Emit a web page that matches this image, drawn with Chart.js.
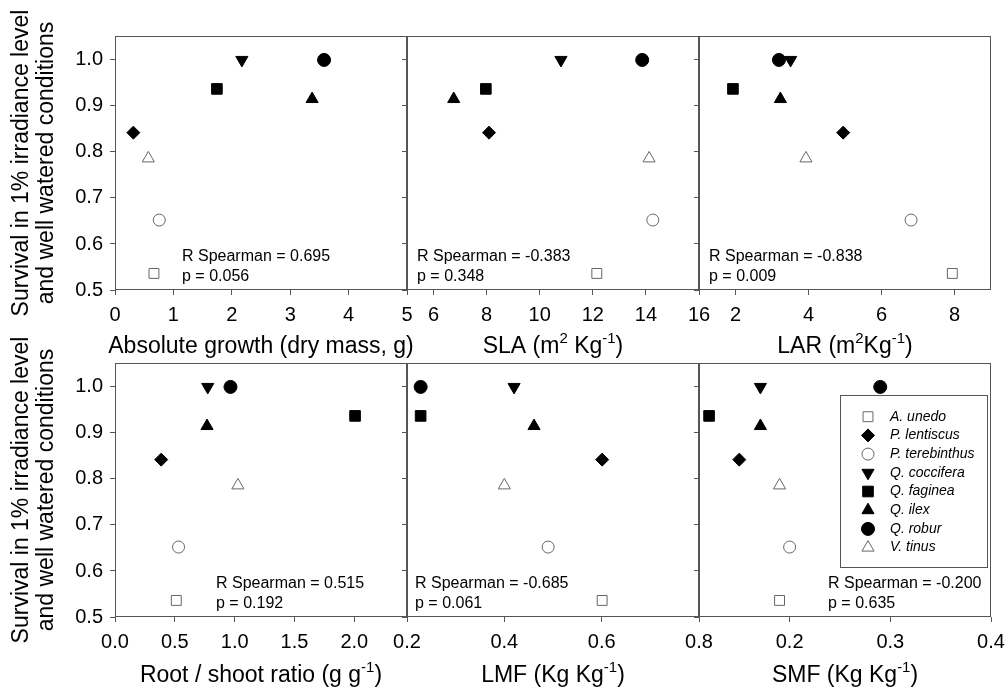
<!DOCTYPE html>
<html>
<head>
<meta charset="utf-8">
<script src="https://cdn.jsdelivr.net/npm/chart.js@4.4.0/dist/chart.umd.min.js"></script>
<style>
    html, body { margin: 0; padding: 0; background: #fff; overflow: hidden; }
    body { width: 1006px; height: 692px; position: relative; }
    canvas { position: absolute; }
</style>
</head>
<body>
<canvas id="pGrowth"></canvas>
<canvas id="pSla"></canvas>
<canvas id="pLar"></canvas>
<canvas id="pRootShoot"></canvas>
<canvas id="pLmf"></canvas>
<canvas id="pSmf"></canvas>
<script>
const FONT = '"Liberation Sans", Arial, sans-serif';

// Especies y supervivencia (eje Y comun a los 6 paneles)
const species = ['A. unedo', 'P. lentiscus', 'P. terebinthus', 'Q. coccifera', 'Q. faginea', 'Q. ilex', 'Q. robur', 'V. tinus'];
const survival = [0.536, 0.842, 0.652, 1.0, 0.937, 0.915, 1.0, 0.786];

// Variables del eje X, mismo orden que species
const absGrowth = [0.667, 0.314, 0.758, 2.172, 1.745, 3.375, 3.58, 0.570];
const sla = [12.15, 8.09, 14.26, 10.80, 7.97, 6.76, 13.86, 14.12];
const lar = [7.94, 4.95, 6.81, 3.51, 1.93, 3.23, 3.19, 3.93];
const rootShoot = [0.512, 0.386, 0.531, 0.775, 2.006, 0.769, 0.965, 1.027];
const lmf = [0.601, 0.601, 0.490, 0.420, 0.228, 0.461, 0.228, 0.400];
const smf = [0.190, 0.150, 0.200, 0.171, 0.120, 0.171, 0.290, 0.190];

// Marcas de los ejes
const yTicks = [0.5, 0.6, 0.7, 0.8, 0.9, 1.0];
const growthTicks = [0, 1, 2, 3, 4, 5];
const slaTicks = [6, 8, 10, 12, 14, 16];
const larTicks = [2, 4, 6, 8];
const rootShootTicks = [0, 0.5, 1.0, 1.5, 2.0];
const lmfTicks = [0.2, 0.4, 0.6, 0.8];
const smfTicks = [0.2, 0.3, 0.4];

// Estadisticos de cada panel
const spearmanR = ['0.695', '-0.383', '-0.838', '0.515', '-0.685', '-0.200'];
const spearmanP = ['0.056', '0.348', '0.009', '0.192', '0.061', '0.635'];

// Simbolo de cada especie
const markers = [
    { style: 'rect', radius: 7, open: true },
    { style: 'rectRot', radius: 6.5, open: false },
    { style: 'circle', radius: 6, open: true },
    { style: 'triangle', radius: 7, rotation: 180, open: false },
    { style: 'rect', radius: 7.5, open: false },
    { style: 'triangle', radius: 7, open: false },
    { style: 'circle', radius: 6.5, open: false },
    { style: 'triangle', radius: 7, open: true },
];

// Geometria de la rejilla de paneles
const COL_LEFT = [115, 407, 699];
const ROW_TOP = [36, 363];
const PLOT_W = 292;
const PLOT_H = 254;

// Titulos del eje X: [texto, superindice]
const panels = [
    { id: 'pGrowth', col: 0, row: 0, x: absGrowth, ticks: growthTicks, min: 0, max: 5, dec: 0,
      title: [['Absolute growth (dry mass, g)', false]], textDx: 67 },
    { id: 'pSla', col: 1, row: 0, x: sla, ticks: slaTicks, min: 5, max: 16, dec: 0,
      title: [['SLA (m', false], ['2', true], [' Kg', false], ['-1', true], [')', false]], textDx: 10 },
    { id: 'pLar', col: 2, row: 0, x: lar, ticks: larTicks, min: 1, max: 9, dec: 0,
      title: [['LAR (m', false], ['2', true], ['Kg', false], ['-1', true], [')', false]], textDx: 10 },
    { id: 'pRootShoot', col: 0, row: 1, x: rootShoot, ticks: rootShootTicks, min: 0, max: 2.44, dec: 1,
      title: [['Root / shoot ratio (g g', false], ['-1', true], [')', false]], textDx: 101 },
    { id: 'pLmf', col: 1, row: 1, x: lmf, ticks: lmfTicks, min: 0.2, max: 0.8, dec: 1,
      title: [['LMF (Kg Kg', false], ['-1', true], [')', false]], textDx: 8 },
    { id: 'pSmf', col: 2, row: 1, x: smf, ticks: smfTicks, min: 0.11, max: 0.4, dec: 1,
      title: [['SMF (Kg Kg', false], ['-1', true], [')', false]], textDx: 129, legend: true },
];

// Caja del panel, titulo X con superindices, texto de Spearman y leyenda
const panelDecor = {
    id: 'panelDecor',
    beforeDatasetsDraw(chart) {
        const { ctx, chartArea: a } = chart;
        ctx.save();
        ctx.strokeStyle = '#555';
        ctx.lineWidth = 1;
        ctx.strokeRect(Math.round(a.left) + 0.5, Math.round(a.top) + 0.5,
            Math.round(a.right - a.left) - 1, Math.round(a.bottom - a.top) - 1);
        ctx.restore();
    },
    afterDraw(chart, args, opts) {
        const { ctx, chartArea: a } = chart;
        ctx.save();
        ctx.fillStyle = '#000';

        // titulo del eje X
        const mainFont = '23px ' + FONT, supFont = '15px ' + FONT;
        let total = 0;
        opts.title.forEach(([t, sup]) => { ctx.font = sup ? supFont : mainFont; total += ctx.measureText(t).width; });
        let tx = (a.left + a.right) / 2 - total / 2;
        const base = a.bottom + opts.titleBase;
        ctx.textAlign = 'left';
        ctx.textBaseline = 'alphabetic';
        opts.title.forEach(([t, sup]) => {
            ctx.font = sup ? supFont : mainFont;
            ctx.fillText(t, tx, sup ? base - 10 : base);
            tx += ctx.measureText(t).width;
        });

        // estadisticos
        ctx.font = '16px ' + FONT;
        ctx.textBaseline = 'middle';
        ctx.fillText('R Spearman = ' + opts.r, a.left + opts.dx, a.bottom - 33);
        ctx.fillText('p = ' + opts.p, a.left + opts.dx, a.bottom - 13.5);

        if (opts.legend) {
            const bx = a.right - 151, by = a.top + 32;
            ctx.strokeStyle = '#555';
            ctx.lineWidth = 1;
            ctx.strokeRect(Math.round(bx) + 0.5, Math.round(by) + 0.5, 147, 172);
            ctx.font = 'italic 14px ' + FONT;
            chart.data.datasets.forEach((d, k) => {
                const y = by + 21.7 + k * 18.7;
                ctx.fillStyle = d.pointBackgroundColor;
                ctx.strokeStyle = d.pointBorderColor;
                ctx.lineWidth = d.pointBorderWidth;
                if (Chart.helpers && Chart.helpers.drawPoint) {
                    Chart.helpers.drawPoint(ctx, {
                        pointStyle: d.pointStyle,
                        rotation: d.pointRotation,
                        radius: d.pointRadius,
                        borderWidth: d.pointBorderWidth
                    }, bx + 28, y);
                }
                ctx.fillStyle = '#000';
                ctx.fillText(d.label, bx + 50, y);
            });
        }
        ctx.restore();
    }
};

function renderPanel(p, i) {
    const first = p.col === 0;
    const yw = first ? 115 : 30;
    const pt = 40, pr = 26;
    const xh = p.row === 0 ? 69 : 71;

    const cv = document.getElementById(p.id);
    cv.width = yw + PLOT_W + pr;
    cv.height = pt + PLOT_H + xh;
    cv.style.left = (COL_LEFT[p.col] - yw) + 'px';
    cv.style.top = (ROW_TOP[p.row] - pt) + 'px';

    const datasets = species.map((name, k) => ({
        label: name,
        data: [{ x: p.x[k], y: survival[k] }],
        pointStyle: markers[k].style,
        pointRotation: markers[k].rotation || 0,
        pointRadius: markers[k].radius,
        pointBackgroundColor: markers[k].open ? '#fff' : '#000',
        pointBorderColor: markers[k].open ? '#666' : '#000',
        pointBorderWidth: 1,
    }));

    new Chart(cv, {
        type: 'scatter',
        data: { datasets },
        options: {
            responsive: false,
            animation: false,
            events: [],
            layout: { padding: { left: 0, top: pt, right: pr, bottom: 0 } },
            plugins: {
                legend: { display: false },
                tooltip: { enabled: false },
                panelDecor: {
                    r: spearmanR[i], p: spearmanP[i], dx: p.textDx, legend: !!p.legend,
                    title: p.title, titleBase: p.row === 0 ? 63 : 65
                }
            },
            scales: {
                x: {
                    type: 'linear',
                    min: p.min,
                    max: p.max,
                    afterBuildTicks: s => { s.ticks = p.ticks.map(v => ({ value: v })); },
                    afterFit: s => { s.height = xh; },
                    ticks: {
                        font: { family: FONT, size: 20 },
                        color: '#000',
                        padding: 8,
                        autoSkip: false,
                        maxRotation: 0,
                        callback: v => Number(v).toFixed(p.dec)
                    },
                    grid: { drawOnChartArea: false, tickLength: 5, color: '#555' },
                    border: { display: false }
                },
                y: {
                    type: 'linear',
                    min: 0.5,
                    max: 1.052,
                    afterBuildTicks: s => { s.ticks = yTicks.map(v => ({ value: v })); },
                    afterFit: s => { s.width = yw; },
                    ticks: {
                        display: first,
                        font: { family: FONT, size: 20 },
                        color: '#000',
                        padding: 7,
                        callback: v => Number(v).toFixed(1)
                    },
                    grid: { drawOnChartArea: false, tickLength: 5, color: '#555' },
                    border: { display: false },
                    title: {
                        display: first,
                        text: ['Survival in 1% irradiance level', 'and well watered conditions'],
                        color: '#000',
                        font: { family: FONT, size: 23, lineHeight: 25 / 23 },
                        padding: { top: 9.5, bottom: 0 }
                    }
                }
            }
        },
        plugins: [panelDecor]
    });
}

panels.forEach(renderPanel);
</script>
</body>
</html>
